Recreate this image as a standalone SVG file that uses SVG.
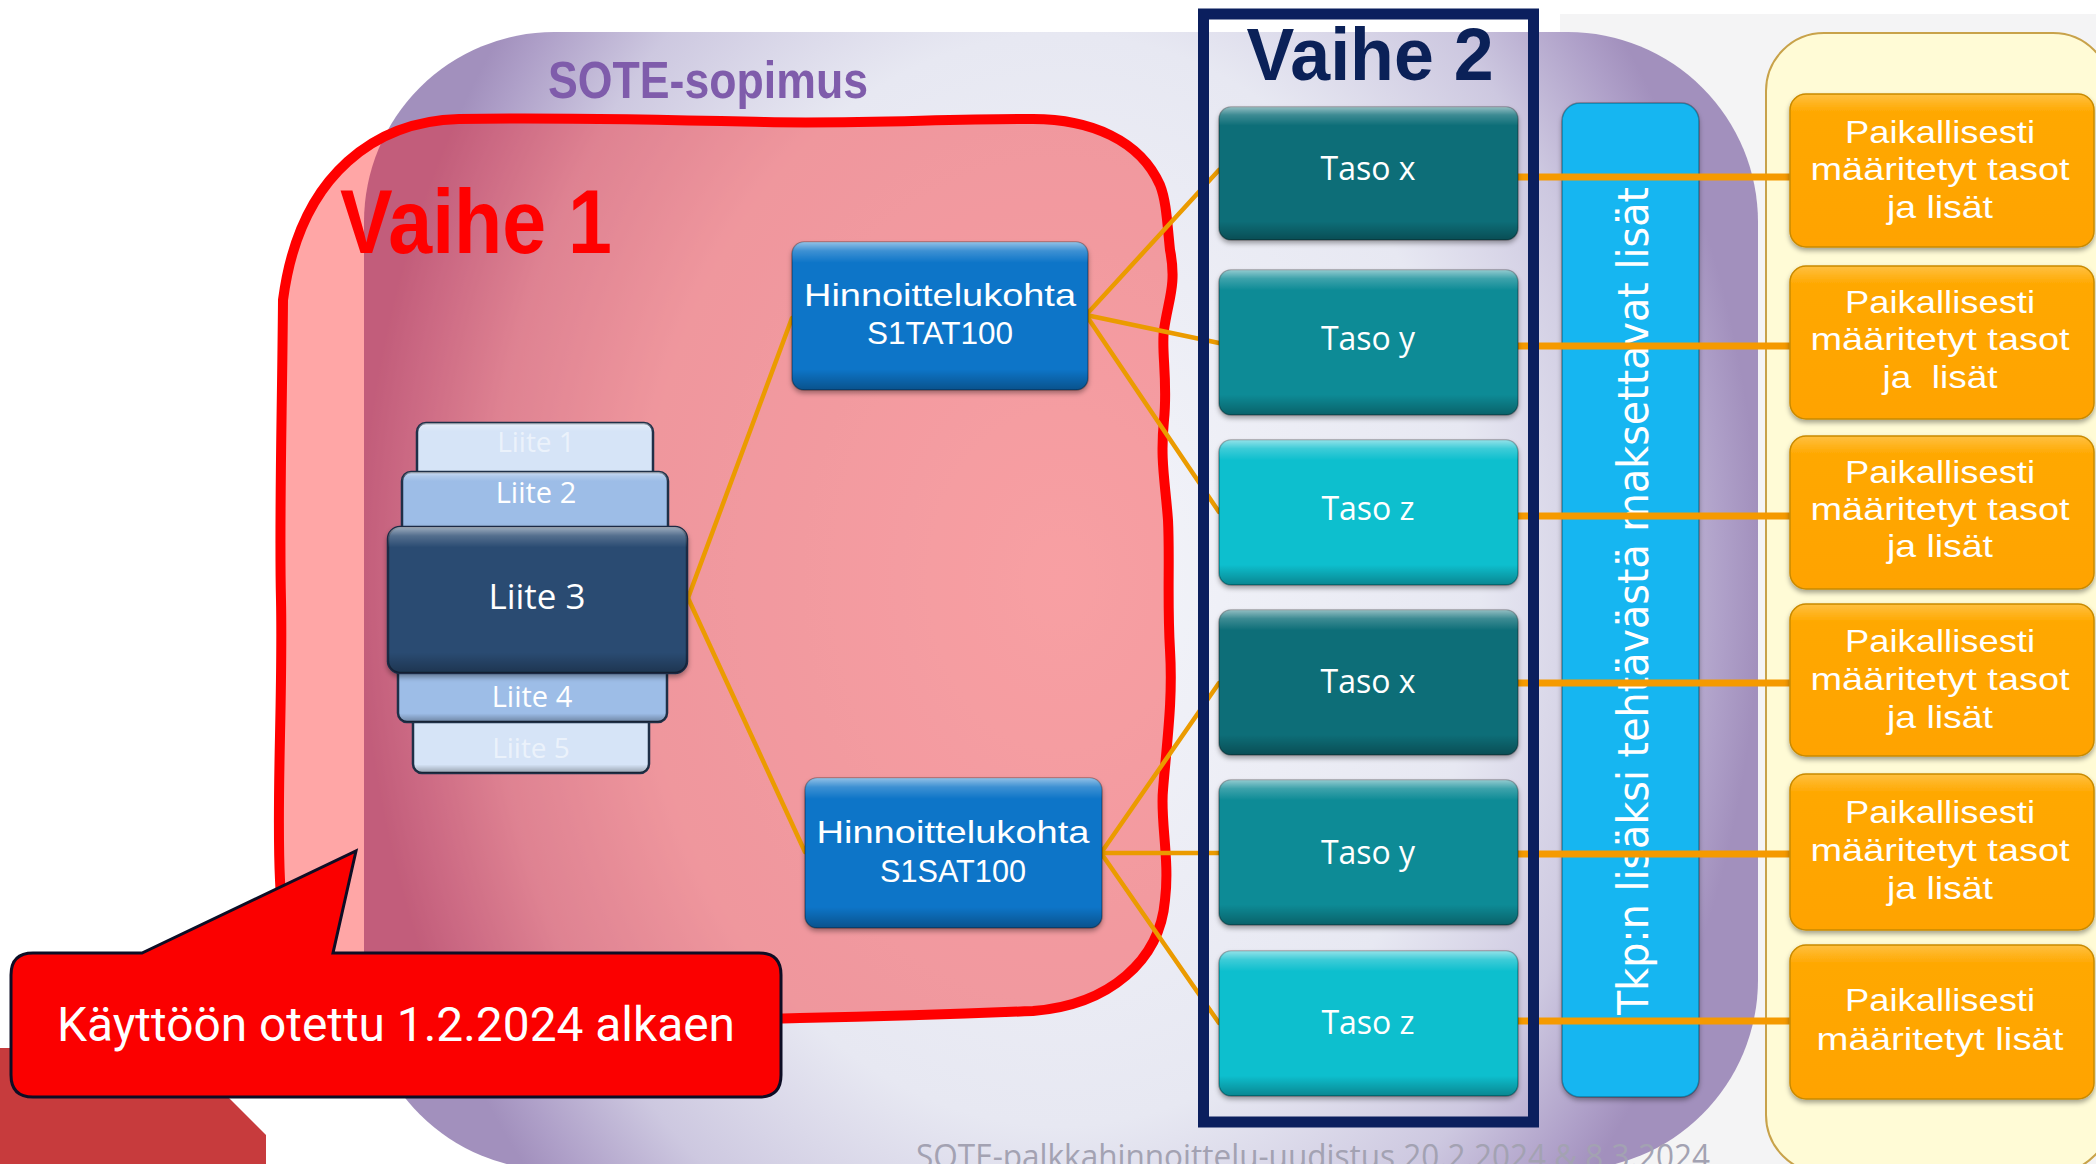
<svg xmlns="http://www.w3.org/2000/svg" width="2096" height="1164" viewBox="0 0 2096 1164">
<defs>
  <radialGradient id="purpleBg" gradientUnits="userSpaceOnUse" cx="1060" cy="580" r="700" gradientTransform="translate(1060 580) scale(1 1.3) translate(-1060 -580)">
    <stop offset="0" stop-color="#f4f5fa"/>
    <stop offset="0.6" stop-color="#e7e8f2"/>
    <stop offset="0.82" stop-color="#cdc8e0"/>
    <stop offset="0.95" stop-color="#ae9fc8"/>
    <stop offset="1" stop-color="#a290bd"/>
  </radialGradient>
  <linearGradient id="gloss" x1="0" y1="0" x2="0" y2="1">
    <stop offset="0" stop-color="#fff" stop-opacity="0.55"/>
    <stop offset="0.06" stop-color="#fff" stop-opacity="0.2"/>
    <stop offset="0.14" stop-color="#fff" stop-opacity="0"/>
    <stop offset="0.86" stop-color="#000" stop-opacity="0"/>
    <stop offset="1" stop-color="#000" stop-opacity="0.3"/>
  </linearGradient>
  <linearGradient id="orangeFill" x1="0" y1="0" x2="0" y2="1">
    <stop offset="0" stop-color="#ffc040"/>
    <stop offset="0.12" stop-color="#ffa800"/>
    <stop offset="1" stop-color="#ffa300"/>
  </linearGradient>
  <filter id="sh" x="-10%" y="-10%" width="120%" height="130%">
    <feDropShadow dx="0" dy="3" stdDeviation="2.5" flood-color="#000" flood-opacity="0.35"/>
  </filter>
  <style>
    .box{stroke:rgba(0,0,0,0.3);stroke-width:1.5;filter:url(#sh)}
    .gloss{fill:url(#gloss);stroke:none}
    .t{font-family:'Open Sans','Noto Sans',sans-serif;fill:#fff;text-anchor:middle}
    .ot{font-family:'Liberation Sans',Arial,sans-serif;font-size:32px;fill:#fff;text-anchor:middle}
    .hk{fill:#0a74c8}
    .tx{fill:#0b6e78}
    .ty{fill:#0a8b96}
    .tz{fill:#08bfce}
    .or{fill:url(#orangeFill);stroke:#c98a00;stroke-width:1.5;filter:url(#sh)}
    .l15{fill:#d6e4f7;stroke:#1f3048;stroke-width:2.5}
    .l24{fill:#9dbde7;stroke:#1f3048;stroke-width:2.5}
    .l3{fill:#294c72;stroke:#1a2c45;stroke-width:2.5}
    .diag{stroke:#eb9b00;stroke-width:4.5;fill:none;stroke-linecap:round}
    .hor{stroke:#f59a00;stroke-width:7;fill:none}
  </style>
</defs>

<rect width="2096" height="1164" fill="#ffffff"/>
<rect x="1560" y="14" width="536" height="1150" fill="#f4f4f5"/>

<!-- dark red shape bottom-left -->
<polygon points="0,1048 179,1048 266,1135 266,1164 0,1164" fill="#c73b3d"/>

<!-- SOTE container -->
<g id="sote-sopimus">
  <rect x="364" y="32" width="1394" height="1138" rx="190" fill="url(#purpleBg)"/>
  <text x="708" y="98" font-family="'Liberation Sans',Arial,sans-serif" font-weight="bold" font-size="52" fill="#7f5cab" text-anchor="middle" textLength="320" lengthAdjust="spacingAndGlyphs">SOTE-sopimus</text>
</g>

<!-- local container -->
<g id="paikalliset">
  <rect x="1766" y="33" width="345" height="1140" rx="58" fill="#fffbd6" stroke="#c8a24a" stroke-width="2"/>
</g>

<!-- footer -->
<text x="1313" y="1168" font-family="'Open Sans','Noto Sans',sans-serif" font-size="32" fill="#a3a2b2" text-anchor="middle" textLength="794" lengthAdjust="spacingAndGlyphs">SOTE-palkkahinnoittelu-uudistus 20.2.2024 &amp; 8.3.2024</text>

<!-- Vaihe 1 region -->
<g id="vaihe1">
  <path d="M283,300 C282,420 279,520 281,600 C283,700 276,800 280,880 C283,960 300,1020 390,1020 C560,1019 700,1021 800,1018 C900,1016 960,1014 1033,1011 C1110,1005 1160,960 1165,900 C1170,860 1160,820 1163,790 C1167,740 1173,700 1170,650 C1167,600 1170,560 1168,520 C1165,480 1160,460 1164,420 C1168,380 1161,350 1164,330 C1168,300 1177,285 1170,250 C1167,220 1166,200 1160,185 C1140,140 1090,119 1033,119 C940,119 860,124 765,122 C680,120 560,117 459,119 C380,121 300,170 283,300 Z" fill="#ff0000" fill-opacity="0.35" stroke="#ff0000" stroke-width="10" stroke-linejoin="round"/>
  <text x="476" y="253" font-family="'Liberation Sans',Arial,sans-serif" font-weight="bold" font-size="91" fill="#ff0000" text-anchor="middle" textLength="272" lengthAdjust="spacingAndGlyphs">Vaihe 1</text>
</g>

<!-- connectors -->
<g id="connectors">
  <line class="diag" x1="688" y1="598" x2="792" y2="318"/>
  <line class="diag" x1="688" y1="598" x2="805" y2="852"/>
  <line class="diag" x1="1086" y1="315" x2="1219" y2="170"/>
  <line class="diag" x1="1086" y1="315" x2="1219" y2="343"/>
  <line class="diag" x1="1086" y1="315" x2="1219" y2="512"/>
  <line class="diag" x1="1101" y1="853" x2="1219" y2="683"/>
  <line class="diag" x1="1101" y1="853" x2="1219" y2="853"/>
  <line class="diag" x1="1101" y1="853" x2="1219" y2="1023"/>
</g>

<!-- Liite stack -->
<g id="liite1">
  <rect class="l15" x="417" y="423" width="236" height="60" rx="9"/>
  <rect class="gloss" x="417" y="423" width="236" height="60" rx="9"/>
  <text class="t" x="536" y="452" font-size="28" style="fill-opacity:0.55">Liite 1</text>
</g>
<g id="liite5">
  <rect class="l15" x="413" y="712" width="236" height="61" rx="9"/>
  <rect class="gloss" x="413" y="712" width="236" height="61" rx="9"/>
  <text class="t" x="531" y="758" font-size="28" style="fill-opacity:0.55">Liite 5</text>
</g>
<g id="liite2">
  <rect class="l24" x="402" y="472" width="266" height="66" rx="9"/>
  <rect class="gloss" x="402" y="472" width="266" height="66" rx="9"/>
  <text class="t" x="536" y="503" font-size="29">Liite 2</text>
</g>
<g id="liite4">
  <rect class="l24" x="398" y="660" width="269" height="62" rx="9"/>
  <rect class="gloss" x="398" y="660" width="269" height="62" rx="9"/>
  <text class="t" x="532" y="707" font-size="29">Liite 4</text>
</g>
<g id="liite3">
  <rect class="l3 box" x="388" y="527" width="299" height="146" rx="12"/>
  <rect class="gloss" x="388" y="527" width="299" height="146" rx="12"/>
  <text class="t" x="537" y="609" font-size="35">Liite 3</text>
</g>

<!-- Hinnoittelukohdat -->
<g id="s1tat100">
  <rect class="box hk" x="792" y="242" width="296" height="148" rx="12"/>
  <rect class="gloss" x="792" y="242" width="296" height="148" rx="12"/>
  <text class="ot"><tspan x="940" y="306" textLength="272" lengthAdjust="spacingAndGlyphs">Hinnoittelukohta</tspan><tspan x="940" y="344" textLength="146" lengthAdjust="spacingAndGlyphs">S1TAT100</tspan></text>
</g>
<g id="s1sat100">
  <rect class="box hk" x="805" y="778" width="297" height="150" rx="12"/>
  <rect class="gloss" x="805" y="778" width="297" height="150" rx="12"/>
  <text class="ot"><tspan x="953" y="843" textLength="273" lengthAdjust="spacingAndGlyphs">Hinnoittelukohta</tspan><tspan x="953" y="882" textLength="146" lengthAdjust="spacingAndGlyphs">S1SAT100</tspan></text>
</g>

<!-- Tkp bar -->
<g id="tkp">
  <rect class="box" x="1562" y="103" width="137" height="994" rx="18" fill="#12b6f1"/>
  <text transform="translate(1648,601) rotate(-90)" font-family="'DejaVu Sans',Verdana,sans-serif" font-size="42" fill="#fff" text-anchor="middle" textLength="828" lengthAdjust="spacingAndGlyphs">Tkp:n  lisäksi tehtävästä maksettavat lisät</text>
</g>

<!-- horizontal connectors (over Tkp bar) -->
<g id="connectors-h">
  <line class="hor" x1="1518" y1="177" x2="1790" y2="177"/>
  <line class="hor" x1="1518" y1="346" x2="1790" y2="346"/>
  <line class="hor" x1="1518" y1="516" x2="1790" y2="516"/>
  <line class="hor" x1="1518" y1="683" x2="1790" y2="683"/>
  <line class="hor" x1="1518" y1="854" x2="1790" y2="854"/>
  <line class="hor" x1="1518" y1="1021" x2="1790" y2="1021"/>
</g>

<!-- Taso boxes -->
<g id="taso-x-1">
  <rect class="box tx" x="1219" y="107" width="299" height="133" rx="12"/>
  <rect class="gloss" x="1219" y="107" width="299" height="133" rx="12"/>
  <text class="t" x="1368" y="180" font-size="32">Taso x</text>
</g>
<g id="taso-y-1">
  <rect class="box ty" x="1219" y="270" width="299" height="145" rx="12"/>
  <rect class="gloss" x="1219" y="270" width="299" height="145" rx="12"/>
  <text class="t" x="1368" y="350" font-size="32">Taso y</text>
</g>
<g id="taso-z-1">
  <rect class="box tz" x="1219" y="440" width="299" height="145" rx="12"/>
  <rect class="gloss" x="1219" y="440" width="299" height="145" rx="12"/>
  <text class="t" x="1368" y="520" font-size="32">Taso z</text>
</g>
<g id="taso-x-2">
  <rect class="box tx" x="1219" y="610" width="299" height="145" rx="12"/>
  <rect class="gloss" x="1219" y="610" width="299" height="145" rx="12"/>
  <text class="t" x="1368" y="693" font-size="32">Taso x</text>
</g>
<g id="taso-y-2">
  <rect class="box ty" x="1219" y="780" width="299" height="145" rx="12"/>
  <rect class="gloss" x="1219" y="780" width="299" height="145" rx="12"/>
  <text class="t" x="1368" y="864" font-size="32">Taso y</text>
</g>
<g id="taso-z-2">
  <rect class="box tz" x="1219" y="951" width="299" height="145" rx="12"/>
  <rect class="gloss" x="1219" y="951" width="299" height="145" rx="12"/>
  <text class="t" x="1368" y="1034" font-size="32">Taso z</text>
</g>

<!-- Orange boxes -->
<g id="paik-1">
  <rect class="or" x="1790" y="94" width="304" height="153" rx="16"/>
  <text class="ot"><tspan x="1940" y="143" textLength="190" lengthAdjust="spacingAndGlyphs">Paikallisesti</tspan><tspan x="1940" y="180" textLength="259" lengthAdjust="spacingAndGlyphs">määritetyt tasot</tspan><tspan x="1940" y="218" textLength="106" lengthAdjust="spacingAndGlyphs">ja lisät</tspan></text>
</g>
<g id="paik-2">
  <rect class="or" x="1790" y="266" width="304" height="153" rx="16"/>
  <text class="ot" xml:space="preserve"><tspan x="1940" y="313" textLength="190" lengthAdjust="spacingAndGlyphs">Paikallisesti</tspan><tspan x="1940" y="350" textLength="259" lengthAdjust="spacingAndGlyphs">määritetyt tasot</tspan><tspan x="1940" y="388" textLength="115" lengthAdjust="spacingAndGlyphs">ja  lisät</tspan></text>
</g>
<g id="paik-3">
  <rect class="or" x="1790" y="436" width="304" height="153" rx="16"/>
  <text class="ot"><tspan x="1940" y="483" textLength="190" lengthAdjust="spacingAndGlyphs">Paikallisesti</tspan><tspan x="1940" y="520" textLength="259" lengthAdjust="spacingAndGlyphs">määritetyt tasot</tspan><tspan x="1940" y="557" textLength="106" lengthAdjust="spacingAndGlyphs">ja lisät</tspan></text>
</g>
<g id="paik-4">
  <rect class="or" x="1790" y="604" width="304" height="152" rx="16"/>
  <text class="ot"><tspan x="1940" y="652" textLength="190" lengthAdjust="spacingAndGlyphs">Paikallisesti</tspan><tspan x="1940" y="690" textLength="259" lengthAdjust="spacingAndGlyphs">määritetyt tasot</tspan><tspan x="1940" y="728" textLength="106" lengthAdjust="spacingAndGlyphs">ja lisät</tspan></text>
</g>
<g id="paik-5">
  <rect class="or" x="1790" y="774" width="304" height="156" rx="16"/>
  <text class="ot"><tspan x="1940" y="823" textLength="190" lengthAdjust="spacingAndGlyphs">Paikallisesti</tspan><tspan x="1940" y="861" textLength="259" lengthAdjust="spacingAndGlyphs">määritetyt tasot</tspan><tspan x="1940" y="899" textLength="106" lengthAdjust="spacingAndGlyphs">ja lisät</tspan></text>
</g>
<g id="paik-6">
  <rect class="or" x="1790" y="945" width="304" height="154" rx="16"/>
  <text class="ot"><tspan x="1940" y="1011" textLength="190" lengthAdjust="spacingAndGlyphs">Paikallisesti</tspan><tspan x="1940" y="1050" textLength="247" lengthAdjust="spacingAndGlyphs">määritetyt lisät</tspan></text>
</g>

<!-- Vaihe 2 frame -->
<g id="vaihe2">
  <rect x="1203.5" y="14" width="330" height="1108" fill="none" stroke="#0b1f5e" stroke-width="11"/>
  <text x="1370" y="80" font-family="'Liberation Sans',Arial,sans-serif" font-weight="bold" font-size="74" fill="#0b2158" text-anchor="middle" textLength="247" lengthAdjust="spacingAndGlyphs">Vaihe 2</text>
</g>

<!-- callout -->
<g id="callout">
  <path d="M33,953 L142,953 L356,851 L333,953 L759,953 Q781,953 781,975 L781,1075 Q781,1097 759,1097 L33,1097 Q11,1097 11,1075 L11,975 Q11,953 33,953 Z" fill="#fb0000" stroke="#0d0d24" stroke-width="3" stroke-linejoin="miter"/>
  <text x="396" y="1041" font-family="Roboto,'Liberation Sans',sans-serif" font-size="48" fill="#ffffff" text-anchor="middle" textLength="678" lengthAdjust="spacingAndGlyphs">Käyttöön otettu 1.2.2024 alkaen</text>
</g>
</svg>
